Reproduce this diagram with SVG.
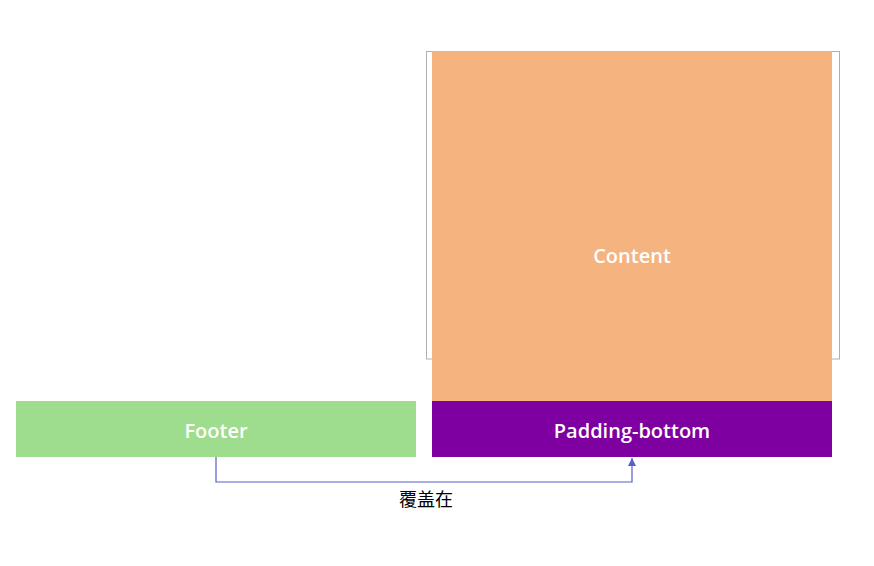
<svg xmlns="http://www.w3.org/2000/svg" width="874" height="566" viewBox="0 0 874 566">
<style>
.lbl{font-family:"Open Sans","Noto Sans",sans-serif;font-size:20px;font-weight:600;fill:#ffffff;text-anchor:middle;dominant-baseline:central}
.cn{font-family:"Liberation Sans","Noto Sans CJK SC",sans-serif;font-size:18px;fill:#000000;text-anchor:middle}
.conn{fill:none;stroke:#5560cc;stroke-width:1.2}
</style>
<defs>
<marker id="arr" viewBox="0 0 10 10" refX="10" refY="5" markerWidth="8" markerHeight="8" markerUnits="userSpaceOnUse" orient="auto">
<path d="M0,0 L10,5 L0,10 z" fill="#5560cc"/>
</marker>
</defs>
<rect width="874" height="566" fill="#ffffff"/>
<g id="outline">
<rect x="426.5" y="51.5" width="413" height="307.5" fill="none" stroke="#b0b0b0" stroke-width="1"/>
</g>
<g id="content">
<rect x="432" y="51" width="400" height="350" fill="#f5b380"/>
<text class="lbl" x="632" y="255">Content</text>
</g>
<g id="padding-bottom">
<rect x="432" y="401" width="400" height="56" fill="#7f00a0"/>
<text class="lbl" x="632" y="430">Padding-bottom</text>
</g>
<g id="footer">
<rect x="16" y="401" width="400" height="56" fill="#9edc8e"/>
<text class="lbl" x="216" y="430">Footer</text>
</g>
<g id="connectors">
<polyline class="conn" points="216,457 216,482 632,482 632,458" marker-end="url(#arr)"/>
<text class="cn" x="426" y="506">覆盖在</text>
</g>
</svg>
